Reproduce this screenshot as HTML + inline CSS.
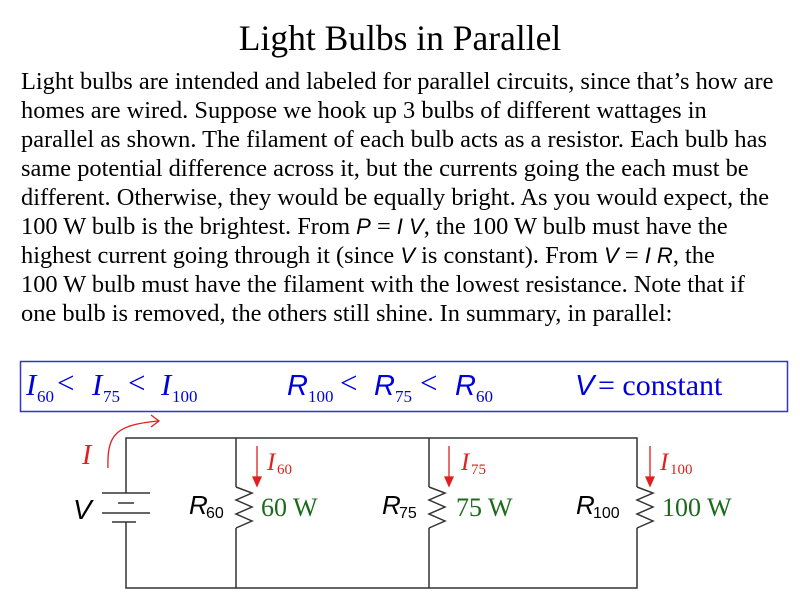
<!DOCTYPE html>
<html><head><meta charset="utf-8"><style>
html,body{margin:0;padding:0;background:#fff;}
#p{position:relative;width:800px;height:600px;overflow:hidden;font-family:"Liberation Serif",serif;}
.t{position:absolute;left:0;width:800px;text-align:center;top:18px;font-size:35.5px;line-height:40px;}
.l{position:absolute;left:21px;font-size:24.4px;line-height:29px;white-space:nowrap;color:#000;}
.s{font-family:"Liberation Sans",sans-serif;font-style:italic;font-size:22px;}
</style></head><body><div id="p">
<div class="t">Light Bulbs in Parallel</div>
<div class="l" style="top:67px">Light bulbs are intended and labeled for parallel circuits, since that’s how are</div>
<div class="l" style="top:96px">homes are wired. Suppose we hook up 3 bulbs of different wattages in</div>
<div class="l" style="top:125px">parallel as shown. The filament of each bulb acts as a resistor. Each bulb has</div>
<div class="l" style="top:154px">same potential difference across it, but the currents going the each must be</div>
<div class="l" style="top:183px">different. Otherwise, they would be equally bright. As you would expect, the</div>
<div class="l" style="top:212px">100 W bulb is the brightest. From <span class="s">P</span> = <span class="s">I V</span>, the 100 W bulb must have the</div>
<div class="l" style="top:241px">highest current going through it (since <span class="s">V</span> is constant). From <span class="s">V</span> = <span class="s">I R</span>, the</div>
<div class="l" style="top:270px">100 W bulb must have the filament with the lowest resistance. Note that if</div>
<div class="l" style="top:299px">one bulb is removed, the others still shine. In summary, in parallel:</div>
<svg width="800" height="600" style="position:absolute;left:0;top:0">
<rect x="20.5" y="361.5" width="767" height="50" fill="none" stroke="#3333cc" stroke-width="1.5"/>
<g fill="#0000dd" font-family="Liberation Serif" font-size="31">
<text x="26" y="395" font-style="italic">I</text><text x="37" y="402" font-size="17">60</text><text x="57" y="393">&lt;</text>
<text x="92" y="395" font-style="italic">I</text><text x="103" y="402" font-size="17">75</text><text x="128" y="393">&lt;</text>
<text x="161" y="395" font-style="italic">I</text><text x="172" y="402" font-size="17">100</text>
<text x="287" y="395" font-family="Liberation Sans" font-style="italic" font-size="29">R</text><text x="308" y="402" font-size="17">100</text><text x="340" y="393">&lt;</text>
<text x="374" y="395" font-family="Liberation Sans" font-style="italic" font-size="29">R</text><text x="395" y="402" font-size="17">75</text><text x="420" y="393">&lt;</text>
<text x="455" y="395" font-family="Liberation Sans" font-style="italic" font-size="29">R</text><text x="476" y="402" font-size="17">60</text>
<text x="575" y="395" font-family="Liberation Sans" font-style="italic" font-size="29">V</text><text x="598" y="395" font-size="30">= constant</text>
</g>
<g stroke="#333" stroke-width="1.5" fill="none">
<polyline points="126,493 126,438 637,438 637,487"/>
<polyline points="126,522 126,588 637,588 637,528"/>
<line x1="236" y1="438" x2="236" y2="487"/><line x1="236" y1="528" x2="236" y2="588"/>
<line x1="429" y1="438" x2="429" y2="487"/><line x1="429" y1="528" x2="429" y2="588"/>
<line x1="102" y1="493" x2="150" y2="493"/><line x1="102" y1="513" x2="150" y2="513"/>
<line x1="118" y1="503" x2="134" y2="503"/><line x1="112" y1="522" x2="136" y2="522"/>
<polyline points="236,487 252,493 236,500 252,507 236,514 252,521 236,528"/>
<polyline points="429,487 445,493 429,500 445,507 429,514 445,521 429,528"/>
<polyline points="637,487 653,493 637,500 653,507 637,514 653,521 637,528"/>
</g>
<g stroke="#e02020" stroke-width="1.3" fill="#e02020">
<line x1="257" y1="446" x2="257" y2="478"/><polygon points="253,477 261,477 257,486"/>
<line x1="449" y1="446" x2="449" y2="478"/><polygon points="445,477 453,477 449,486"/>
<line x1="650" y1="446" x2="650" y2="478"/><polygon points="646,477 654,477 650,486"/>
<path d="M108,468 C107,435 115,425 158,421" fill="none"/>
<polyline points="151,415 159,421 151,427" fill="none"/>
</g>
<g fill="#e02020" font-family="Liberation Serif" font-style="italic" font-size="28">
<text x="82" y="464">I</text>
<text x="267" y="470" font-size="25">I</text><text x="277" y="474" font-size="15" font-style="normal">60</text>
<text x="461" y="470" font-size="25">I</text><text x="471" y="474" font-size="15" font-style="normal">75</text>
<text x="660" y="470" font-size="25">I</text><text x="670" y="474" font-size="15" font-style="normal">100</text>
</g>
<g fill="#000" font-family="Liberation Sans">
<text x="73" y="519" font-style="italic" font-size="28">V</text>
<text x="189" y="514" font-style="italic" font-size="26">R</text><text x="206" y="518" font-size="16">60</text>
<text x="382" y="514" font-style="italic" font-size="26">R</text><text x="399" y="518" font-size="16">75</text>
<text x="576" y="514" font-style="italic" font-size="26">R</text><text x="593" y="518" font-size="16">100</text>
</g>
<g fill="#1a6b1a" font-family="Liberation Serif" font-size="26">
<text x="261" y="516">60 W</text><text x="456" y="516">75 W</text><text x="662" y="516">100 W</text>
</g>
</svg>
</div></body></html>
